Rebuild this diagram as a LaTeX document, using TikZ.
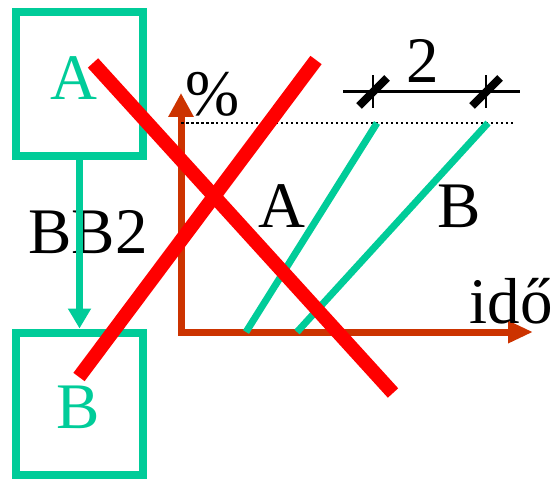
\documentclass[tikz,border=0pt]{standalone}
\usepackage{fontspec}
\setmainfont{Liberation Serif}
\usetikzlibrary{arrows.meta}
\definecolor{grn}{HTML}{00CC99}
\definecolor{axc}{HTML}{CC3300}
\definecolor{rd}{HTML}{FF0000}
\begin{document}
\begin{tikzpicture}[x=0.02cm,y=-0.02cm,
  big/.style={font=\fontsize{37}{37}\selectfont, inner sep=0pt, anchor=base},
  box/.style={draw=grn, line width=0.16cm, minimum width=2.54cm, inner sep=0pt},
  grline/.style={draw=grn, line width=0.14cm},
  redline/.style={draw=rd, line width=0.28cm},
  axis/.style={draw=axc, line width=0.14cm, miter limit=10},
  tick/.style={line width=0.16cm},
  thin/.style={line width=0.04cm}]
\useasboundingbox (0,0) rectangle (553,479);
% boxes
\node[box, minimum height=2.88cm] (boxA) at (79.5,84) {};
\node[box, minimum height=2.86cm] (boxB) at (79.5,404) {};
\node[big, text=grn] (tA) at (74,100) {A};
\node[big, text=grn] (tB) at (78,428) {B};
% BB2 label
\node[big] (bb) at (88,253) {BB2};
% arrow
\draw[grline, -{Triangle[width=0.44cm,length=0.4cm]}] (boxA.south) -- (boxB.north);
% axes
\coordinate (O) at (181,332);
\coordinate (yT) at (181,93);
\coordinate (xT) at (533,332);
\draw[axis, {Triangle[width=0.48cm,length=0.48cm]}-{Triangle[width=0.42cm,length=0.5cm]}] (yT) -- (O) -- (xT);
% dotted level
\coordinate (d1) at (181,123);
\coordinate (d2) at (513,123);
\draw[line width=0.05cm, dash pattern=on 0.05cm off 0.05cm] (d1) -- (d2);
% green lines
\coordinate (ga1) at (246,332);
\coordinate (ga2) at (377,123);
\coordinate (gb1) at (297,332);
\coordinate (gb2) at (488,123);
\draw[grline] (ga1) -- (ga2);
\draw[grline] (gb1) -- (gb2);
% scale bar
\coordinate (s1) at (343,92);
\coordinate (s2) at (520,92);
\coordinate (k1) at (373,92);
\coordinate (k2) at (486,92);
\draw[line width=0.06cm] (s1) -- (s2);
\foreach \k in {k1,k2}{
  \draw[thin] ([yshift=0.34cm]\k) -- ([yshift=-0.32cm]\k);
  \draw[tick] ([xshift=-0.28cm,yshift=-0.28cm]\k) -- ([xshift=0.28cm,yshift=0.28cm]\k);
}
% labels
\node[big] (two) at (423,83) {2};
\node[big] (pct) at (213,116) {\%};
\node[big] (la) at (282,227) {A};
\node[big] (lb) at (459,227) {B};
\node[big] (ido) at (511,323) {idő};
% red X
\coordinate (r1s) at (93,63);
\coordinate (r1e) at (393,393);
\coordinate (r2s) at (316,60);
\coordinate (r2e) at (79,377);
\draw[redline] (r1s) -- (r1e);
\draw[redline] (r2s) -- (r2e);
\end{tikzpicture}
\end{document}
